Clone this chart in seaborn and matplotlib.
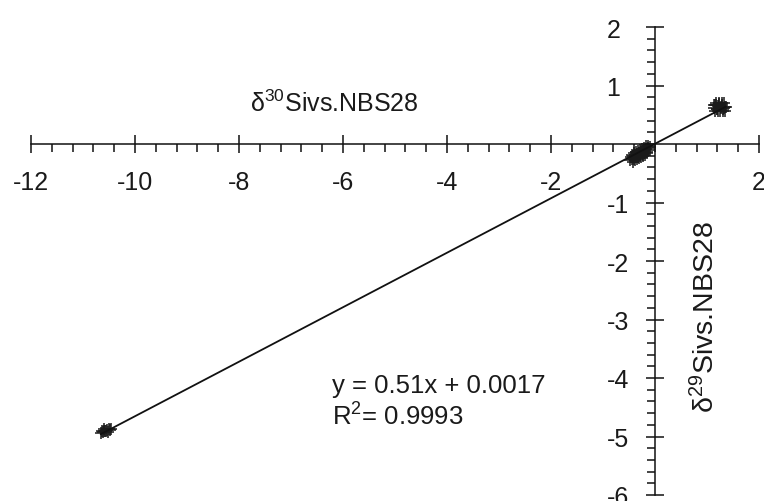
import numpy as np
import pandas as pd
import seaborn as sns
import matplotlib
matplotlib.use("Agg")
import matplotlib.pyplot as plt
from matplotlib.ticker import MultipleLocator

# Silicon isotope ratios (per mil vs. NBS28), three sample groups
d30_low = [-10.66, -10.62, -10.59, -10.56, -10.53, -10.50, -10.47, -10.60, -10.52, -10.57, -10.64, -10.49]
d29_low = [-4.94, -4.93, -4.91, -4.90, -4.89, -4.88, -4.87, -4.88, -4.92, -4.91, -4.90, -4.89]

d30_mid = [-0.48, -0.46, -0.44, -0.42, -0.40, -0.38, -0.36, -0.34, -0.32, -0.30,
           -0.28, -0.26, -0.24, -0.22, -0.20, -0.18, -0.16, -0.14, -0.12, -0.10,
           -0.45, -0.41, -0.37, -0.33, -0.29, -0.25, -0.21, -0.17, -0.13,
           -0.43, -0.39, -0.35, -0.31, -0.27, -0.23, -0.19, -0.15]
d29_mid = [-0.27, -0.22, -0.26, -0.20, -0.25, -0.19, -0.23, -0.17, -0.22, -0.15,
           -0.20, -0.13, -0.18, -0.11, -0.16, -0.09, -0.14, -0.07, -0.10, -0.05,
           -0.18, -0.16, -0.14, -0.12, -0.10, -0.08, -0.06, -0.04, -0.04,
           -0.30, -0.28, -0.26, -0.24, -0.22, -0.20, -0.18, -0.15]

d30_high = [1.14, 1.17, 1.20, 1.23, 1.26, 1.29, 1.32, 1.35, 1.16, 1.21, 1.25, 1.30,
            1.34, 1.18, 1.24, 1.28, 1.33, 1.15, 1.22, 1.27, 1.19, 1.31, 1.36, 1.13]
d29_high = [0.62, 0.66, 0.60, 0.68, 0.63, 0.66, 0.61, 0.64, 0.56, 0.56, 0.57, 0.56,
            0.57, 0.70, 0.70, 0.70, 0.70, 0.66, 0.65, 0.62, 0.59, 0.60, 0.64, 0.67]

x_ticks = [-12, -10, -8, -6, -4, -2, 2]
y_ticks = [-6, -5, -4, -3, -2, -1, 1, 2]

x_label = r"$\delta^{30}$Sivs.NBS28"
y_label = r"$\delta^{29}$Sivs.NBS28"
eq_text = "y = 0.51x + 0.0017"
r2_text = r"R$^{2}$= 0.9993"

df = pd.DataFrame({
    "d30": d30_low + d30_mid + d30_high,
    "d29": d29_low + d29_mid + d29_high,
})

sns.set_style("ticks")
plt.rcParams["font.family"] = ["Liberation Sans", "DejaVu Sans"]
plt.rcParams["mathtext.default"] = "regular"

fig = plt.figure(figsize=(7.64, 5.02), dpi=100)
ax = fig.add_axes([31 / 764, 6 / 502, 728 / 764, 468 / 502])

sns.regplot(data=df, x="d30", y="d29", ax=ax, ci=None, marker="+",
            scatter_kws=dict(color="#1a1a1a", s=70, linewidths=1.1, alpha=1),
            line_kws=dict(color="#111111", lw=1.3))

ax.set_xlim(-12, 2)
ax.set_ylim(-6, 2)

# axes crossing at the origin
for side in ("top", "right"):
    ax.spines[side].set_visible(False)
for side in ("left", "bottom"):
    ax.spines[side].set_position(("data", 0))
    ax.spines[side].set_linewidth(1.1)
    ax.spines[side].set_color("#111111")

ax.set_xticks(x_ticks)
ax.set_xticklabels([str(v) for v in x_ticks])
ax.set_yticks(y_ticks)
ax.set_yticklabels([str(v) for v in y_ticks])
ax.xaxis.set_minor_locator(MultipleLocator(0.4))
ax.yaxis.set_minor_locator(MultipleLocator(0.2))

ax.tick_params(axis="both", which="both", bottom=True, left=True, top=False, right=False)
ax.tick_params(axis="both", which="major", direction="inout", length=13,
               width=1.1, color="#111111", labelsize=18, labelcolor="#1a1a1a")
ax.tick_params(axis="x", which="major", pad=12)
ax.tick_params(axis="y", which="major", pad=28.5)
ax.tick_params(axis="both", which="minor", direction="out", length=5.5,
               width=1.1, color="#111111")
for lab in ax.get_yticklabels():
    lab.set_horizontalalignment("left")

ax.set_xlabel("")
ax.set_ylabel("")

ax.text(-7.79, 0.56, x_label, fontsize=18, color="#1a1a1a", ha="left", va="baseline")
ax.text(0.98, -2.94, y_label, fontsize=20.5, color="#1a1a1a", rotation=90,
        ha="center", va="center")
ax.text(-6.21, -4.24, eq_text, fontsize=18.5, color="#1a1a1a", ha="left", va="baseline")
ax.text(-6.21, -4.79, r2_text, fontsize=18.5, color="#1a1a1a", ha="left", va="baseline")

fig.savefig("out.png", dpi=100)
